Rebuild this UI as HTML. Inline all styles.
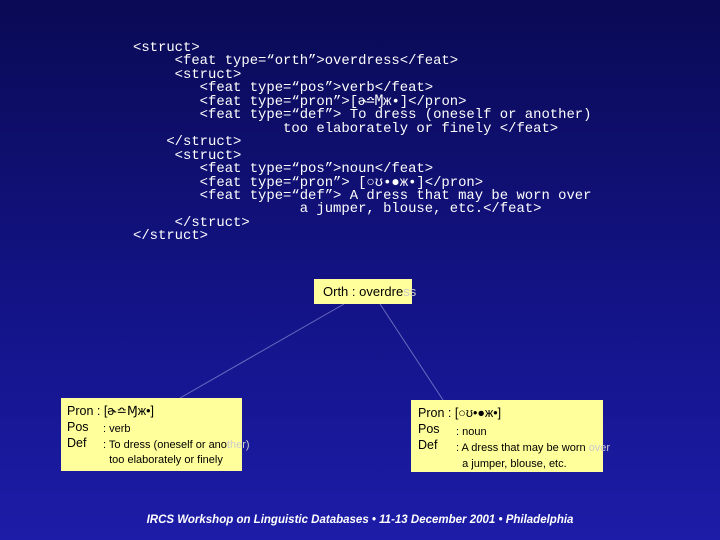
<!DOCTYPE html>
<html><head><style>
html,body{margin:0;padding:0}
body{width:720px;height:540px;position:relative;overflow:hidden;background:linear-gradient(#0a0a55,#14148a 60%,#1c1ca8);font-family:"Liberation Sans",sans-serif}
pre{position:absolute;left:133px;top:42px;margin:0;font-family:"Liberation Mono",monospace;font-size:13.9px;line-height:13.45px;color:#fff}
.box{position:absolute;background:#ffff9c;color:#000;font-size:12px;white-space:nowrap}
.t{position:absolute;white-space:nowrap}
.foot{position:absolute;left:0;width:720px;top:514px;text-align:center;color:#fff;font-size:11.5px;font-weight:bold;font-style:italic}
</style></head><body>
<pre>&lt;struct&gt;
     &lt;feat type=“orth”&gt;overdress&lt;/feat&gt;
     &lt;struct&gt;
        &lt;feat type=“pos”&gt;verb&lt;/feat&gt;
        &lt;feat type=“pron”&gt;[ɚ≏Ɱж•]&lt;/pron&gt;
        &lt;feat type=“def”&gt; To dress (oneself or another)
                  too elaborately or finely &lt;/feat&gt;
    &lt;/struct&gt;
     &lt;struct&gt;
        &lt;feat type=“pos”&gt;noun&lt;/feat&gt;
        &lt;feat type=“pron”&gt; [○ʊ•●ж•]&lt;/pron&gt;
        &lt;feat type=“def”&gt; A dress that may be worn over
                    a jumper, blouse, etc.&lt;/feat&gt;
     &lt;/struct&gt;
&lt;/struct&gt;</pre>
<svg width="720" height="540" style="position:absolute;left:0;top:0">
<line x1="344" y1="304" x2="180" y2="398" stroke="#6a6ac0" stroke-width="1"/>
<line x1="380" y1="304" x2="443" y2="400" stroke="#6a6ac0" stroke-width="1"/>
</svg>
<div class="box" style="left:314px;top:279px;width:98px;height:25px"></div>
<div class="t" style="left:323px;top:284px;font-size:13px;color:#000">Orth : overdre<span style="color:#ccc">ss</span></div>
<div class="box" style="left:61px;top:398px;width:181px;height:73px"></div>
<div class="t" style="left:67px;top:403px;font-size:12.5px;line-height:16px;color:#000">Pron : [ɚ≏Ɱж•]<br>Pos<br>Def</div>
<div class="t" style="left:103px;top:422px;font-size:11px;line-height:15.5px;color:#000">: verb<br>: To dress (oneself or ano<span style="color:#ccc">ther)</span><br>&nbsp;&nbsp;too elaborately or finely</div>
<div class="box" style="left:411px;top:400px;width:192px;height:72px"></div>
<div class="t" style="left:418px;top:405px;font-size:12.5px;line-height:16px;color:#000">Pron : [○ʊ•●ж•]<br>Pos<br>Def</div>
<div class="t" style="left:456px;top:424px;font-size:11px;line-height:16px;color:#000">: noun<br>: A dress that may be worn <span style="color:#ccc">over</span><br>&nbsp;&nbsp;a jumper, blouse, etc.</div>
<div class="foot">IRCS Workshop on Linguistic Databases • 11-13 December 2001 • Philadelphia</div>
</body></html>
